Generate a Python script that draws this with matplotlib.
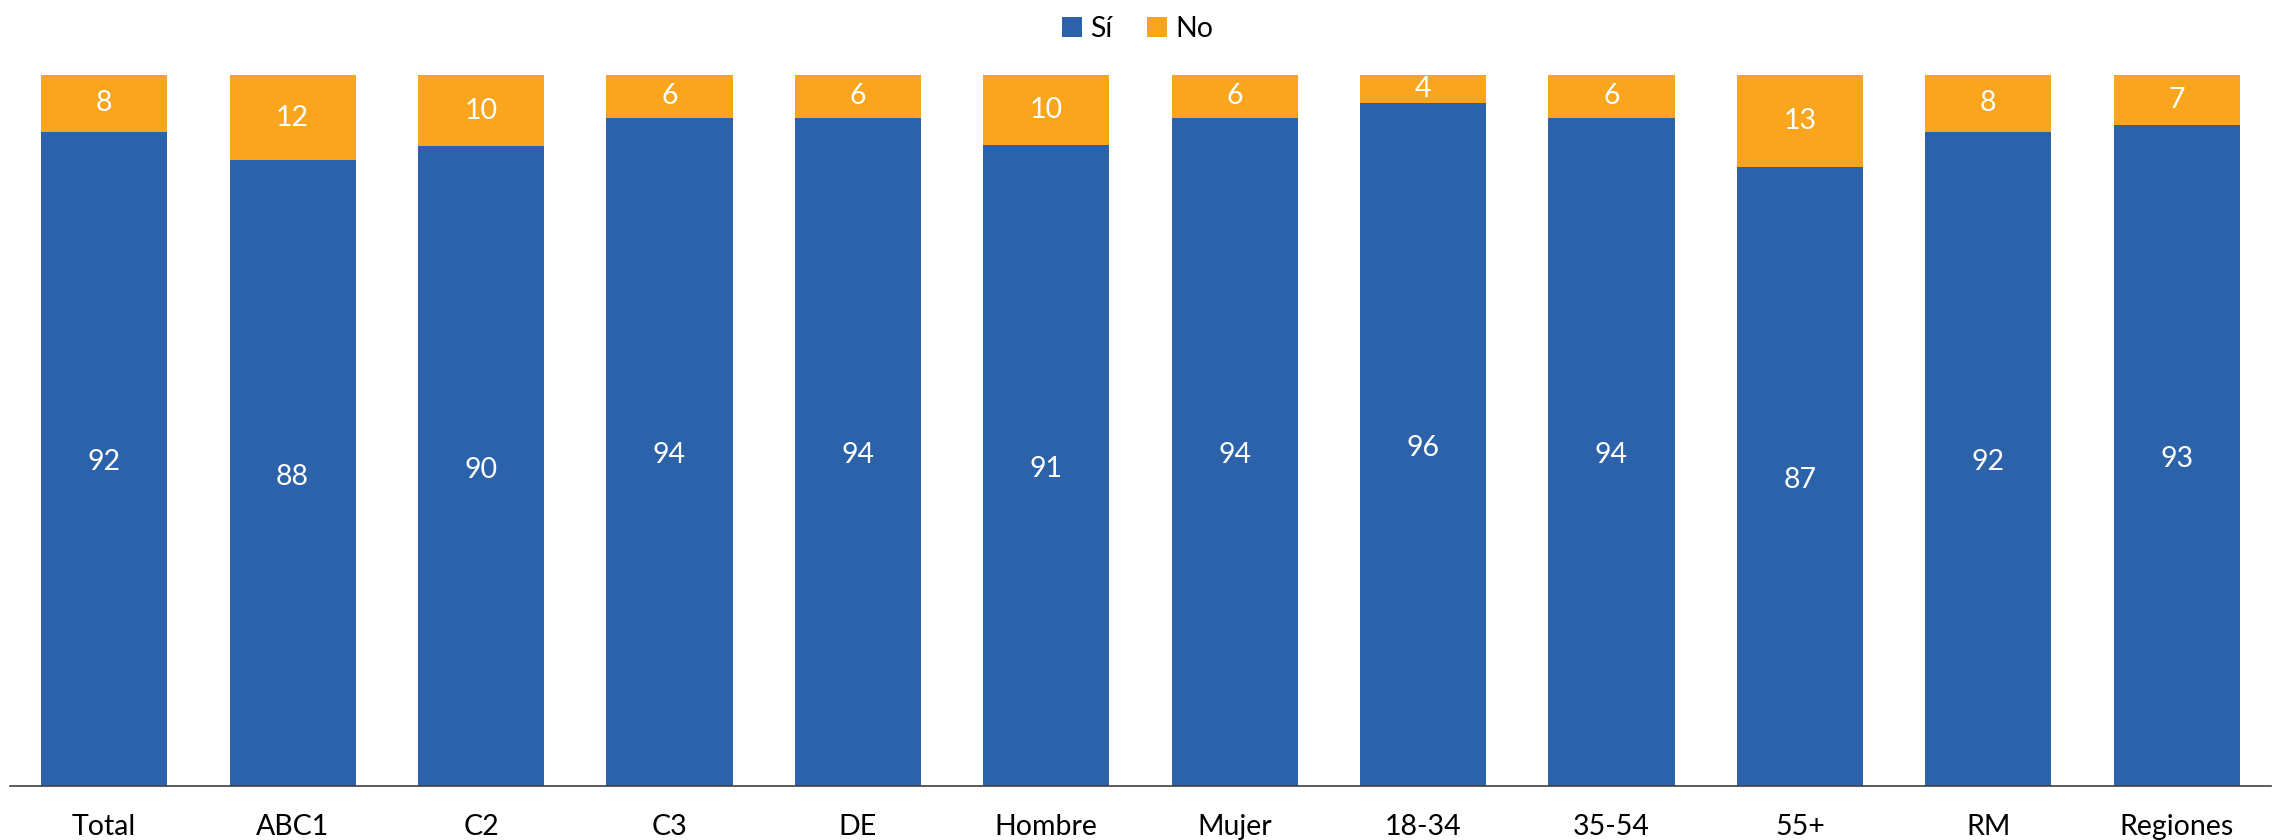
import numpy as np
import matplotlib.pyplot as plt

plt.rcParams['font.family'] = ['Lato', 'DejaVu Sans']

categories = ['Total', 'ABC1', 'C2', 'C3', 'DE', 'Hombre', 'Mujer',
              '18-34', '35-54', '55+', 'RM', 'Regiones']
si = [92, 88, 90, 94, 94, 91, 94, 96, 94, 87, 92, 93]
no = [8, 12, 10, 6, 6, 10, 6, 4, 6, 13, 8, 7]

blue = '#2B62AA'
orange = '#F9A51D'

si_a = np.array(si, dtype=float)
no_a = np.array(no, dtype=float)
tot = si_a + no_a
si_p = si_a / tot * 100  # 100% stacked
no_p = no_a / tot * 100

fig = plt.figure(figsize=(22.75, 8.4), dpi=100)
ax = fig.add_axes([0.0044, 0.0643, 0.9938, 0.8464])
x = np.arange(len(categories))
w = 0.67
b1 = ax.bar(x, si_p, w, color=blue, label='Sí', edgecolor='none')
b2 = ax.bar(x, no_p, w, bottom=si_p, color=orange, label='No', edgecolor='none')

for i in range(len(categories)):
    ax.text(x[i], si_p[i] / 2 - 0.5, str(si[i]), ha='center', va='center',
            color='white', fontsize=20.5)
    ax.text(x[i], si_p[i] + no_p[i] / 2, str(no[i]), ha='center', va='center',
            color='white', fontsize=20.5)

ax.set_xlim(-0.5, len(categories) - 0.5)
ax.set_ylim(0, 100)
ax.set_xticks(x)
ax.set_xticklabels(categories, fontsize=20.5)
ax.tick_params(axis='x', length=0, pad=20)
ax.set_yticks([])
for s in ['top', 'right', 'left']:
    ax.spines[s].set_visible(False)
ax.spines['bottom'].set_color('#404040')
ax.spines['bottom'].set_linewidth(1.2)

fig.legend(handles=[b1, b2], loc='upper center', bbox_to_anchor=(0.5, 1.012),
           ncol=2, frameon=False, fontsize=20.5, handlelength=0.7,
           handleheight=0.7, handletextpad=0.3, columnspacing=1.2)

fig.savefig('out.png', dpi=100)
